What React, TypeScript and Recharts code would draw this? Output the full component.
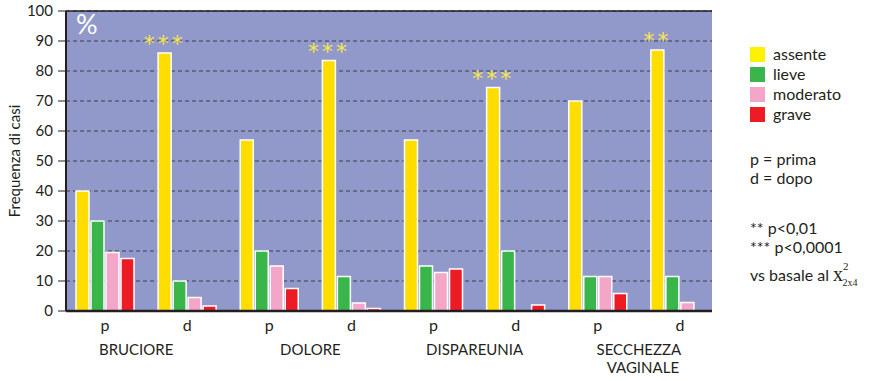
import { BarChart, Bar, XAxis, YAxis, CartesianGrid, ReferenceLine, Legend, LabelList } from "recharts";

const groups = ["BRUCIORE", "DOLORE", "DISPAREUNIA", "SECCHEZZA VAGINALE"];
const phases = ["p", "d"];
const yTicks = [0, 10, 20, 30, 40, 50, 60, 70, 80, 90, 100];
const seriesOrder = ["assente", "lieve", "moderato", "grave"];

// valori (%), ordine: BRUCIORE p/d, DOLORE p/d, DISPAREUNIA p/d, SECCHEZZA p/d
const assente = [40, 86, 57, 83.5, 57, 74.5, 70, 87];
const lieve = [30, 10, 20, 11.5, 15, 20, 11.5, 11.5];
const moderato = [19.5, 4.5, 15, 2.7, 12.8, 0, 11.5, 2.8];
const grave = [17.5, 1.7, 7.5, 0.8, 14, 2, 5.8, 0];
const sig = ["", "***", "", "***", "", "***", "", "**"];

const rows = assente.map((v, i) => ({
  id: `${groups[Math.floor(i / 2)]}-${phases[i % 2]}`,
  group: groups[Math.floor(i / 2)],
  phase: phases[i % 2],
  assente: v,
  lieve: lieve[i],
  moderato: moderato[i],
  grave: grave[i],
  sig: sig[i],
}));

const FONT = "Lato, 'Open Sans', sans-serif";
const INK = "#231f20";

function CatTick(props: any) {
  const { x, y, index, payload } = props;
  const row = rows[index];
  const half = payload && payload.offset ? payload.offset : 41;
  const lines = row.group.split(" ");
  // nel grafico originale la prima etichetta è un po' spostata a sinistra
  const shift = index === 0 ? -10 : 0;
  return (
    <g fontFamily={FONT} fill={INK}>
      <text x={x} y={y + 20} textAnchor="middle" fontSize={16}>
        {row.phase}
      </text>
      {row.phase === "p" &&
        lines.map((l: string, k: number) => (
          <text key={k} x={x + half + shift + k * 4} y={y + 44 + k * 18} textAnchor="middle" fontSize={15}>
            {l}
          </text>
        ))}
    </g>
  );
}

function Stars(props: any) {
  const { x, y, width, value } = props;
  if (!value) return null;
  return (
    <text
      x={x + width / 2}
      y={y - 2}
      textAnchor="middle"
      fontSize={22}
      fill="#f7e84a"
      fontFamily="'DejaVu Sans', sans-serif"
      letterSpacing={3}
    >
      {value}
    </text>
  );
}

const legendColors: Record<string, string> = {
  assente: "#fff200",
  lieve: "#39b54a",
  moderato: "#f4a6c8",
  grave: "#ed1c24",
};

function Notes(props: any) {
  const payload = [...(props.payload || [])].sort(
    (a: any, b: any) => seriesOrder.indexOf(a.dataKey) - seriesOrder.indexOf(b.dataKey)
  );
  return (
    <svg width={140} height={300} style={{ display: "block" }}>
      <g fontFamily={FONT} fontSize={16} fill={INK}>
        {payload.map((p: any, i: number) => (
          <g key={p.value}>
            <rect x={10} y={7 + i * 20} width={15} height={15} fill={legendColors[p.dataKey] || p.color} />
            <text x={33} y={20 + i * 20}>{p.value}</text>
          </g>
        ))}
        <text x={10} y={125}>p = prima</text>
        <text x={10} y={144}>d = dopo</text>
        <text x={10} y={194}>** p&lt;0,01</text>
        <text x={10} y={213}>*** p&lt;0,0001</text>
        <text x={10} y={241}>
          vs basale al{" "}
          <tspan fontFamily="'Liberation Serif', serif" fontSize={20}>x</tspan>
          <tspan fontFamily="'Liberation Serif', serif" fontSize={11} dy={-11}>2</tspan>
          <tspan fontFamily="'Liberation Serif', serif" fontSize={10} dx={-6} dy={16}>2x4</tspan>
        </text>
      </g>
    </svg>
  );
}

export default function App() {
  return (
    <div style={{ position: "absolute", left: 0, top: 0, width: 882, height: 381, background: "#fff" }}>
      <BarChart
        width={882}
        height={381}
        data={rows}
        margin={{ top: 11, right: 30, bottom: 10, left: 8 }}
        barSize={13}
        barGap={2}
      >
        <CartesianGrid vertical={false} stroke="#3d3d4a" strokeDasharray="4 3" fill="#9198ca" fillOpacity={1} />
        <XAxis
          dataKey="id"
          type="category"
          height={60}
          padding={{ left: -2, right: -9 }}
          interval={0}
          tickLine={false}
          tickSize={0}
          tickMargin={0}
          axisLine={{ stroke: INK, strokeWidth: 2.5 }}
          tick={<CatTick />}
        />
        <YAxis
          domain={[0, 100]}
          ticks={yTicks}
          interval={0}
          width={58}
          tickSize={8}
          tickMargin={5}
          axisLine={{ stroke: INK, strokeWidth: 2 }}
          tickLine={{ stroke: INK, strokeWidth: 1 }}
          tick={{ fill: INK, fontSize: 15, fontFamily: FONT }}
          label={{
            value: "Frequenza di casi",
            angle: -90,
            position: "insideLeft",
            dx: 2,
            style: { fill: INK, fontSize: 15, fontFamily: FONT, textAnchor: "middle" },
          }}
        />
        <ReferenceLine y={100} stroke={INK} strokeWidth={1.5} />
        <Legend
          layout="vertical"
          verticalAlign="top"
          align="right"
          content={<Notes />}
          wrapperStyle={{ left: 740, top: 40, width: 140 }}
        />
        <Bar dataKey="assente" name="assente" fill="#ffdd00" stroke="#fff" strokeWidth={1.5} isAnimationActive={false}>
          <LabelList dataKey="sig" content={<Stars />} />
        </Bar>
        <Bar dataKey="lieve" name="lieve" fill="#39b54a" stroke="#fff" strokeWidth={1.5} isAnimationActive={false} />
        <Bar dataKey="moderato" name="moderato" fill="#f4a6c8" stroke="#fff" strokeWidth={1.5} isAnimationActive={false} />
        <Bar dataKey="grave" name="grave" fill="#ed1c24" stroke="#fff" strokeWidth={1.5} isAnimationActive={false} />
      </BarChart>
      <div
        style={{
          position: "absolute",
          left: 76,
          top: 9,
          color: "#fff",
          fontFamily: FONT,
          fontSize: 27,
          lineHeight: "30px",
        }}
      >
        %
      </div>
    </div>
  );
}
